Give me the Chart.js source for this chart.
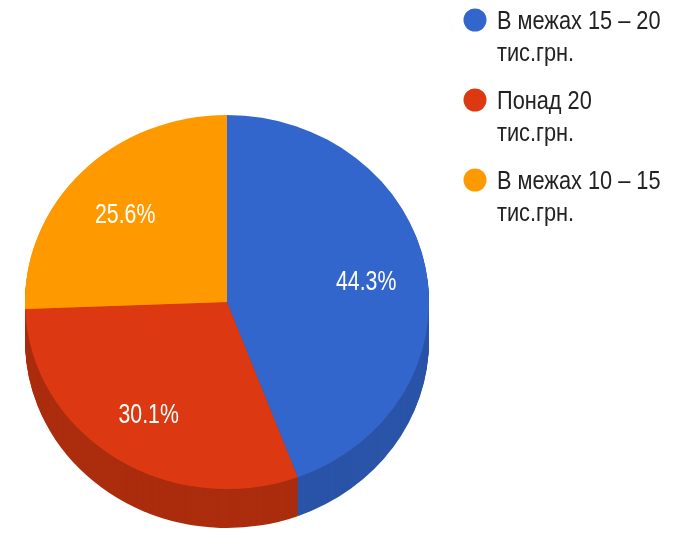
<!DOCTYPE html>
<html>
<head>
<meta charset="utf-8">
<script src="https://cdn.jsdelivr.net/npm/chart.js@4.4.1/dist/chart.umd.min.js"></script>
<style>
  html, body { margin: 0; padding: 0; background: #fff; }
  #wrap { width: 686px; height: 535px; }
</style>
</head>
<body>
<div id="wrap"><canvas id="pieChart" width="686" height="535"></canvas></div>
<script>
// дані діаграми
const labels = [['В межах 15 – 20', 'тис.грн.'], ['Понад 20', 'тис.грн.'], ['В межах 10 – 15', 'тис.грн.']];
const values = [44.3, 30.1, 25.6];
const colors = ['#3366cc', '#dc3912', '#ff9900'];
const sideColors = ['#2a54a8', '#ab2d0e', '#c77700'];

const squash = 0.926;   // еліпс верхньої грані
const depth = 39;       // товщина "3D"

// бічна стінка, підписи та легенда
const sidePlugin = {
    id: 'side3d',
    beforeDatasetsDraw(chart) {
        const ctx = chart.ctx;
        const arcs = chart.getDatasetMeta(0).data;
        if (!arcs.length) return;
        const cx = arcs[0].x, cy = arcs[0].y;
        ctx.save();
        for (let d = depth; d >= 1; d--) {
            arcs.forEach((a, i) => {
                ctx.save();
                ctx.translate(cx, cy + d);
                ctx.scale(1, squash);
                ctx.beginPath();
                ctx.moveTo(0, 0);
                ctx.arc(0, 0, a.outerRadius, a.startAngle, a.endAngle);
                ctx.closePath();
                ctx.fillStyle = sideColors[i];
                ctx.fill();
                ctx.restore();
            });
        }
        ctx.restore();
        // сплющуємо верхню грань
        ctx.save();
        ctx.translate(cx, cy);
        ctx.scale(1, squash);
        ctx.translate(-cx, -cy);
    },
    afterDatasetsDraw(chart) {
        const ctx = chart.ctx;
        ctx.restore();
        const arcs = chart.getDatasetMeta(0).data;
        const total = values.reduce((s, v) => s + v, 0);
        // підписи відсотків
        arcs.forEach((a, i) => {
            const mid = (a.startAngle + a.endAngle) / 2;
            const r = a.outerRadius * 0.7;
            const x = a.x + Math.cos(mid) * r;
            const y = a.y + Math.sin(mid) * r * squash + 4;
            ctx.save();
            ctx.translate(x, y);
            ctx.scale(0.76, 1);
            ctx.font = '28px "Liberation Sans", Arial, sans-serif';
            ctx.fillStyle = '#ffffff';
            ctx.textAlign = 'center';
            ctx.textBaseline = 'middle';
            ctx.fillText((values[i] / total * 100).toFixed(1) + '%', 0, 0);
            ctx.restore();
        });
        // легенда праворуч
        labels.forEach((lines, i) => {
            const dotY = 20 + i * 80;
            ctx.beginPath();
            ctx.arc(475, dotY, 11.5, 0, Math.PI * 2);
            ctx.fillStyle = colors[i];
            ctx.fill();
            lines.forEach((t, j) => {
                ctx.save();
                ctx.translate(497, dotY + 9 + j * 32);
                ctx.scale(0.87, 1);
                ctx.font = '25px "Liberation Sans", Arial, sans-serif';
                ctx.fillStyle = '#222222';
                ctx.textAlign = 'left';
                ctx.textBaseline = 'alphabetic';
                ctx.fillText(t, 0, 0);
                ctx.restore();
            });
        });
    }
};

new Chart(document.getElementById('pieChart'), {
    type: 'pie',
    data: {
        labels: labels.map(l => l.join(' ')),
        datasets: [{
            data: values,
            backgroundColor: colors,
            borderWidth: 0
        }]
    },
    options: {
        responsive: false,
        animation: false,
        layout: {
            padding: { left: 25, right: 257, top: 100, bottom: 31 }
        },
        plugins: {
            legend: { display: false },
            tooltip: { enabled: false }
        }
    },
    plugins: [sidePlugin]
});
</script>
</body>
</html>
